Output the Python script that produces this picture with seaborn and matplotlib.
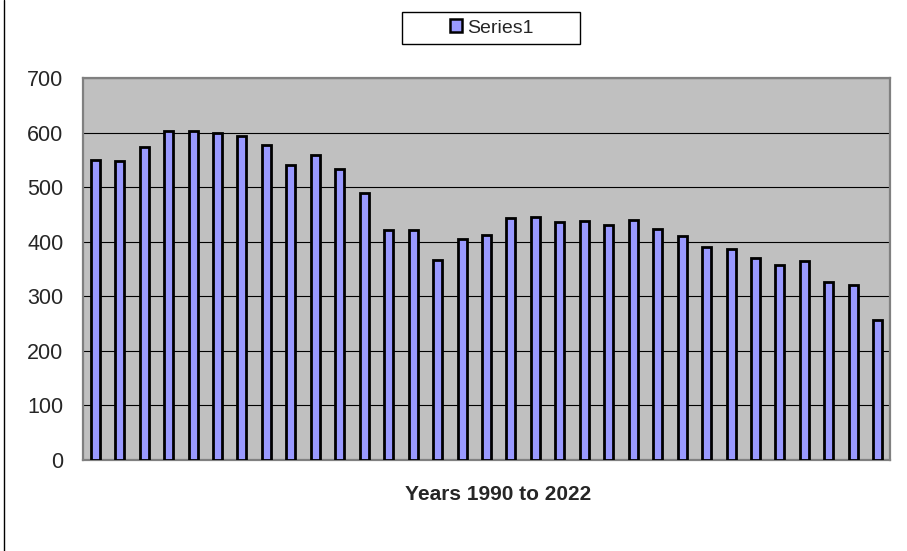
import matplotlib
matplotlib.use("Agg")
import matplotlib.pyplot as plt
import seaborn as sns
import pandas as pd
from matplotlib.lines import Line2D
from matplotlib.patches import Rectangle, Patch

years = list(range(1990, 2023))
values = [550, 548, 574, 602, 602, 600, 593, 577, 541, 558, 533, 490,
          421, 421, 367, 405, 412, 443, 446, 436, 438, 430, 440, 424,
          410, 391, 386, 370, 358, 364, 326, 320, 256]
series_name = "Series1"
y_ticks = [0, 100, 200, 300, 400, 500, 600, 700]

df = pd.DataFrame({"year": years, "value": values})

sns.set_style("white")
plt.rcParams['font.family'] = ['Liberation Sans', 'DejaVu Sans']

fig = plt.figure(figsize=(9.07, 5.51), dpi=100)
ax = fig.add_axes([83 / 907, 91 / 551, 807 / 907, 382 / 551])
ax.set_facecolor('#C0C0C0')

sns.barplot(data=df, x="year", y="value", color='#9999FF', saturation=1,
            edgecolor='black', linewidth=2.0, width=0.37, ax=ax, zorder=3)

ax.set_ylim(0, 700)
ax.set_xlim(-0.5, len(years) - 0.5)
ax.set_yticks(y_ticks)
ax.set_yticklabels([str(t) for t in y_ticks], fontsize=15.5)
ax.set_xticks([])
ax.tick_params(axis='y', direction='out', length=5, width=1, color='black', pad=9)
ax.yaxis.grid(True, color='black', linewidth=0.8, zorder=0)
ax.set_axisbelow(True)
for s in ax.spines.values():
    s.set_color('#808080')
    s.set_linewidth(1.6)
    s.set_visible(True)

ax.set_ylabel('')
ax.set_xlabel('Years 1990 to 2022', fontsize=15, fontweight='bold')
ax.xaxis.set_label_coords(0.514, -0.066)

# legend box
fig.patches.append(Rectangle((402 / 907, 1 - 44 / 551), 178 / 907, 32 / 551,
                             transform=fig.transFigure, facecolor='white',
                             edgecolor='black', linewidth=1))
handle = Patch(facecolor='#9999FF', edgecolor='black', linewidth=1.8, label=series_name)
fig.legend(handles=[handle], loc='center', bbox_to_anchor=(492 / 907, 1 - 28 / 551),
           frameon=False, fontsize=14, handlelength=0.6, handleheight=0.6,
           handletextpad=0.3, borderaxespad=0)

# left chart border
fig.add_artist(Line2D([4 / 907, 4 / 907], [0, 1], transform=fig.transFigure,
                      color='black', linewidth=1))

fig.savefig('out.png', dpi=100)
